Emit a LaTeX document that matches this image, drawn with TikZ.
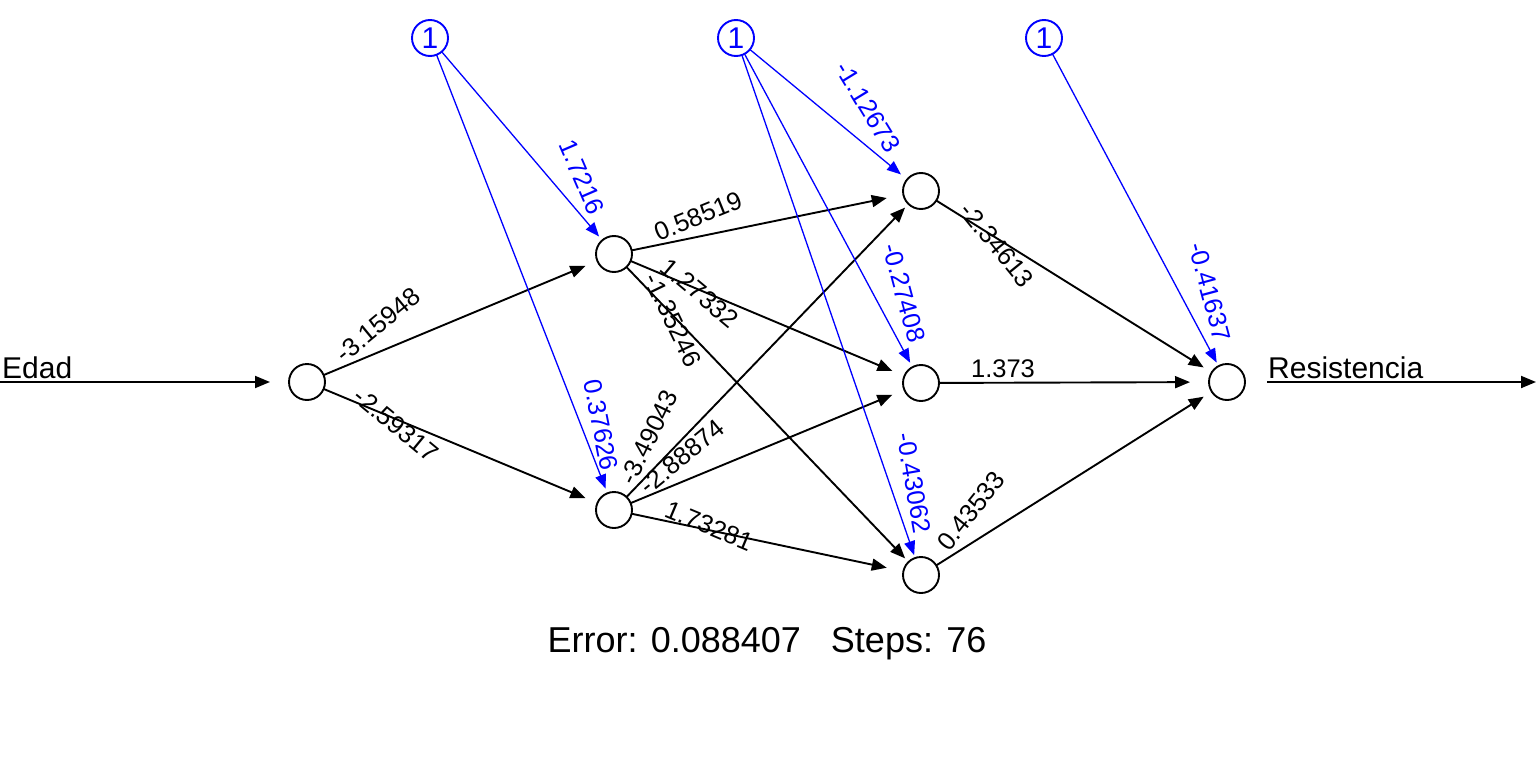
\documentclass[tikz,border=0pt]{standalone}
\usepackage{fontspec}
\setmainfont{Liberation Sans}
\usetikzlibrary{arrows.meta}
\definecolor{rblue}{RGB}{0,0,255}
\begin{document}
\begin{tikzpicture}[x=1pt,y=-1pt,
  neuron/.style={circle,draw=black,line width=1.9pt,minimum size=36pt,inner sep=0pt,outer sep=0pt},
  biasnode/.style={neuron,draw=rblue,text=rblue,font=\fontsize{30}{36}\selectfont},
  wedge/.style={draw=black,line width=1.9pt,-{Triangle[length=15pt,width=12pt]}},
  bedge/.style={draw=rblue,line width=1.3pt,-{Triangle[length=14pt,width=11pt]}},
  wlab/.style={font=\fontsize{25.5}{30}\selectfont,inner sep=0pt,text=black},
  blab/.style={wlab,text=rblue},
  iolab/.style={font=\fontsize{30}{36}\selectfont,inner sep=0pt,anchor=base west},
]
\useasboundingbox[fill=white] (0,0) rectangle (1536,768);

% neurons
\node[neuron] (I) at (307,382) {};
\node[neuron] (H1a) at (614,254) {};
\node[neuron] (H1b) at (614,510) {};
\node[neuron] (H2a) at (921,191) {};
\node[neuron] (H2b) at (921,383) {};
\node[neuron] (H2c) at (921,575) {};
\node[neuron] (O) at (1227,382) {};
\node[biasnode] (B1) at (430,38) {1};
\node[biasnode] (B2) at (736,38) {1};
\node[biasnode] (B3) at (1044,38) {1};

% input / output
\coordinate (inL) at (0,382);
\coordinate (outR) at (1536,382);
\node[iolab] (edad) at (2,378) {Edad};
\node[iolab] (res) at (1268,378) {Resistencia};
\draw[wedge,shorten >=19pt] (inL) -- (I);
\draw[wedge,shorten <=22pt] (O) -- (outR);

% weight edges
\draw[wedge,shorten >=13pt] (I) -- (H1a);
\draw[wedge,shorten >=13pt] (I) -- (H1b);
\draw[wedge,shorten >=17pt] (H1a) -- (H2a);
\draw[wedge,shorten >=13pt] (H1a) -- (H2b);
\draw[wedge,shorten >=5pt] (H1a) -- (H2c);
\draw[wedge,shorten >=5pt] (H1b) -- (H2a);
\draw[wedge,shorten >=13pt] (H1b) -- (H2b);
\draw[wedge,shorten >=17pt] (H1b) -- (H2c);
\draw[wedge,shorten >=9.5pt] (H2a) -- (O);
\draw[wedge,shorten >=19pt] (H2b) -- (O);
\draw[wedge,shorten >=9.5pt] (H2c) -- (O);

% bias edges
\draw[bedge,shorten >=5pt] (B1) -- (H1a);
\draw[bedge,shorten >=5pt] (B1) -- (H1b);
\draw[bedge,shorten >=8pt] (B2) -- (H2a);
\draw[bedge,shorten >=5pt] (B2) -- (H2b);
\draw[bedge,shorten >=3pt] (B2) -- (H2c);
\draw[bedge,shorten >=4pt] (B3) -- (O);

% weight labels
\node[wlab,rotate=39.5] (l1) at (378,325) {-3.15948};
\node[wlab,rotate=-39.5] (l2) at (396,425) {-2.59317};
\node[wlab,rotate=22.1] (l3) at (698,216) {0.58519};
\node[wlab,rotate=-39.8] (l4) at (700,293) {1.27332};
\node[wlab,rotate=-64.2] (l5) at (673,320) {-1.35246};
\node[wlab,rotate=64] (l6) at (649,437) {-3.49043};
\node[wlab,rotate=39.3] (l7) at (682,457) {-2.88874};
\node[wlab,rotate=-22.7] (l8) at (709,526) {1.73281};
\node[wlab,rotate=-51] (l9) at (997,245) {-2.34613};
\node[wlab] (l10) at (1003,369) {1.373};
\node[wlab,rotate=51.3] (l11) at (971,511) {0.43533};

% bias labels
\node[blab,rotate=-66.7] (b1) at (582,177) {1.7216};
\node[blab,rotate=-78.9] (b2) at (601,425) {0.37626};
\node[blab,rotate=-58.6] (b3) at (868,107) {-1.12673};
\node[blab,rotate=-74.8] (b4) at (904,293) {-0.27408};
\node[blab,rotate=-80.1] (b5) at (914,483) {-0.43062};
\node[blab,rotate=-75] (b6) at (1210,292) {-0.41637};

% footer
\node[font=\fontsize{36}{43}\selectfont,inner sep=0pt,anchor=base] (err) at (767,652) {Error: 0.088407~~~Steps: 76};
\end{tikzpicture}
\end{document}
